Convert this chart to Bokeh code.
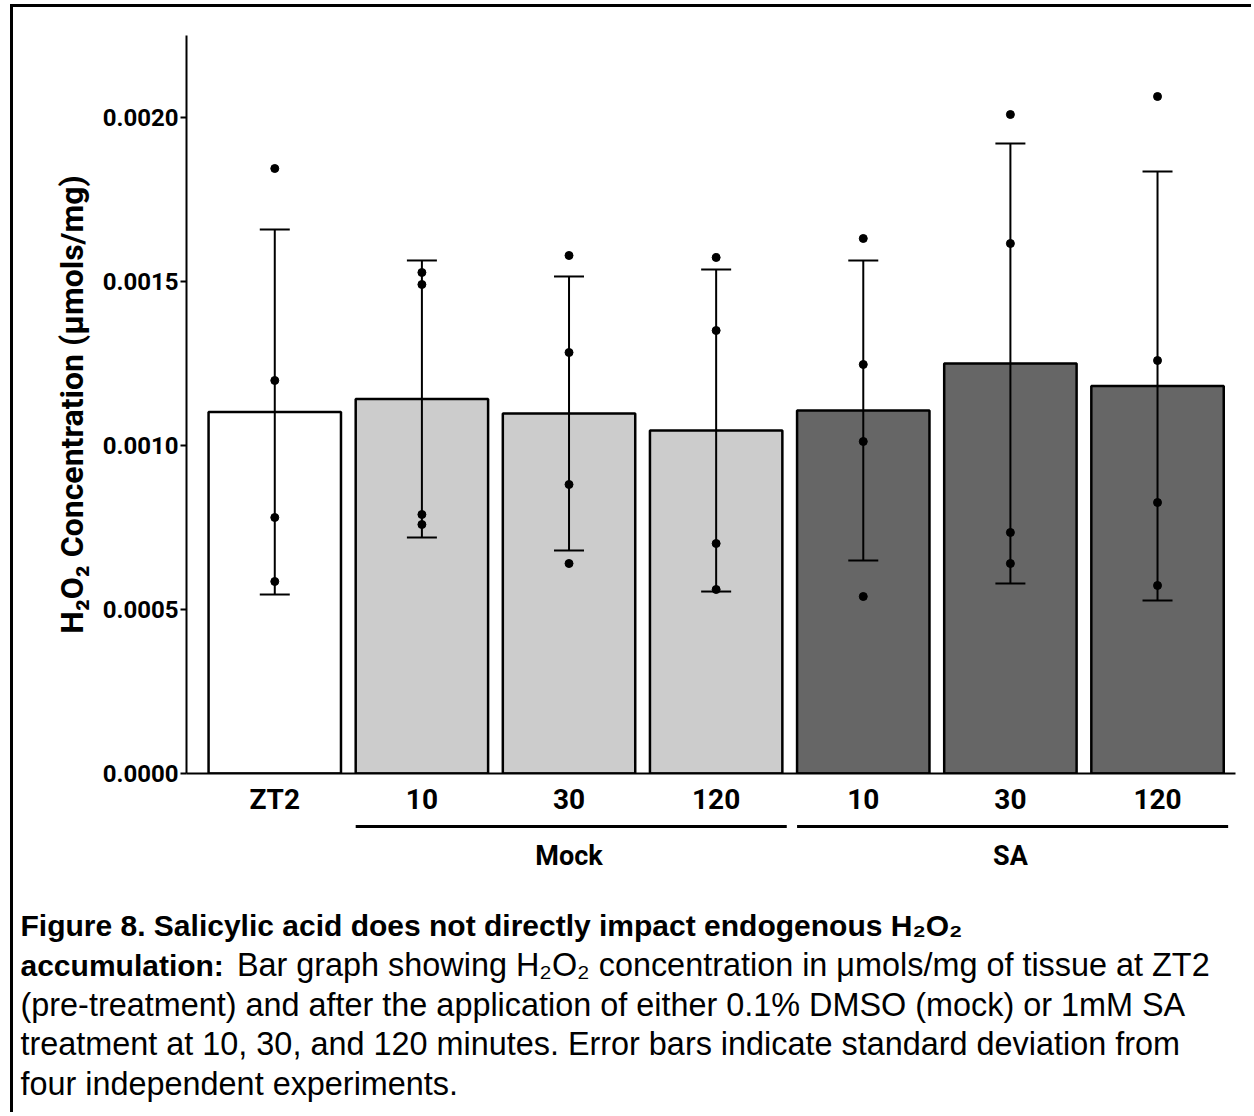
from bokeh.plotting import figure
from bokeh.layouts import column, row
from bokeh.models import (ColumnDataSource, Whisker, TeeHead, FixedTicker,
                          NumeralTickFormatter, Label, Range1d)
from bokeh.embed import file_html
from bokeh.resources import INLINE

# ---------------- data ----------------
categories = ["ZT2", "10", "30", "120", "10", "30", "120"]
groups = ["", "Mock", "Mock", "Mock", "SA", "SA", "SA"]
group_names = ["Mock", "SA"]
means = [0.0011021, 0.0011418, 0.0010976, 0.0010457, 0.0011067, 0.0012500, 0.0011814]
sds = [0.0005564, 0.0004223, 0.0004177, 0.0004909, 0.0004573, 0.0006707, 0.0006540]
zt2_points = [0.0018445, 0.0011982, 0.0007805, 0.0005854]
mock10_points = [0.0015274, 0.0014909, 0.0007896, 0.0007591]
mock30_points = [0.0015793, 0.0012835, 0.0008811, 0.0006402]
mock120_points = [0.0015732, 0.0013506, 0.0007012, 0.0005610]
sa10_points = [0.0016311, 0.0012470, 0.0010122, 0.0005396]
sa30_points = [0.0020091, 0.0016159, 0.0007348, 0.0006402]
sa120_points = [0.0020640, 0.0012591, 0.0008262, 0.0005732]
fills = ["#FFFFFF", "#CCCCCC", "#CCCCCC", "#CCCCCC", "#666666", "#666666", "#666666"]
y_ticks = [0.0, 0.0005, 0.0010, 0.0015, 0.0020]

caption_lines = [
    [("Figure 8. Salicylic acid does not directly impact endogenous H₂O₂", True)],
    [("accumulation:", True), ("Bar graph showing H₂O₂ concentration in μmols/mg of tissue at ZT2", False)],
    [("(pre-treatment) and after the application of either 0.1% DMSO (mock) or 1mM SA", False)],
    [("treatment at 10, 30, and 120 minutes. Error bars indicate standard deviation from", False)],
    [("four independent experiments.", False)],
]

replicates = [zt2_points, mock10_points, mock30_points, mock120_points,
              sa10_points, sa30_points, sa120_points]

xs = list(range(len(categories)))
src = ColumnDataSource(dict(
    x=xs, mean=means, fill=fills,
    upper=[m + s for m, s in zip(means, sds)],
    lower=[m - s for m, s in zip(means, sds)],
))
pt_x, pt_y = [], []
for i, reps in enumerate(replicates):
    for v in reps:
        pt_x.append(i)
        pt_y.append(v)

CHART = "Roboto"
CAP = "Liberation Sans"
W = 1238
LB = 173
RB = 16

x_range = Range1d(-0.6, 6.53)

# ---------------- main chart ----------------
p = figure(width=W, height=813, x_range=x_range,
           y_range=Range1d(0, 0.00225), output_backend="svg",
           toolbar_location=None, title=None,
           min_border_left=LB, min_border_right=RB,
           min_border_top=28, min_border_bottom=47)
p.outline_line_color = None
p.xgrid.visible = False
p.ygrid.visible = False

p.vbar(x="x", top="mean", bottom=0, width=0.9, fill_color="fill",
       line_color="black", line_width=2.5, source=src)

wh = Whisker(source=src, base="x", upper="upper", lower="lower",
             line_color="black", line_width=2, level="overlay",
             upper_head=TeeHead(size=30, line_width=2, line_color="black"),
             lower_head=TeeHead(size=30, line_width=2, line_color="black"))
p.add_layout(wh)

p.scatter(pt_x, pt_y, size=8, color="black", level="overlay")

ya = p.yaxis[0]
ya.ticker = FixedTicker(ticks=y_ticks)
ya.formatter = NumeralTickFormatter(format="0.0000")
ya.minor_tick_line_color = None
ya.major_tick_out = 6
ya.major_tick_in = 0
ya.major_tick_line_width = 2
ya.axis_line_width = 2
ya.major_label_text_font = CHART
ya.major_label_text_font_style = "bold"
ya.major_label_text_font_size = "24px"
ya.major_label_text_color = "black"
ya.major_label_standoff = 2
ya.axis_label = "H₂O₂ Concentration (μmols/mg)"
ya.axis_label_text_font = CHART
ya.axis_label_text_font_style = "bold"
ya.axis_label_text_font_size = "32px"
ya.axis_label_text_color = "black"
ya.axis_label_standoff = 9

xa = p.xaxis[0]
xa.ticker = FixedTicker(ticks=xs)
xa.major_label_overrides = {i: c for i, c in zip(xs, categories)}
xa.major_tick_line_color = None
xa.major_tick_out = 0
xa.minor_tick_line_color = None
xa.axis_line_width = 2
xa.major_label_text_font = CHART
xa.major_label_text_font_style = "bold"
xa.major_label_text_font_size = "28px"
xa.major_label_text_color = "black"
xa.major_label_standoff = 9

# ---------------- group bracket strip ----------------
g = figure(width=W, height=60, x_range=x_range, y_range=Range1d(60, 0),
           output_backend="svg", toolbar_location=None, title=None,
           x_axis_location=None, y_axis_location=None,
           min_border_left=LB, min_border_right=RB,
           min_border_top=0, min_border_bottom=0)
g.outline_line_color = None
g.xgrid.visible = False
g.ygrid.visible = False
for name in group_names:
    idx = [i for i, gg in enumerate(groups) if gg == name]
    lo, hi = min(idx), max(idx)
    g.segment(x0=[lo - 0.45], x1=[hi + 0.48], y0=[6], y1=[6],
              line_color="black", line_width=3)
    g.add_layout(Label(x=(lo + hi) / 2, y=35, text=name,
                       text_align="center", text_baseline="middle",
                       text_font=CHART, text_font_style="bold",
                       text_font_size="27px", text_color="black"))

# ---------------- caption ----------------
CH = 232
c = figure(width=W, height=CH, x_range=Range1d(0, W), y_range=Range1d(CH, 0),
           output_backend="svg", toolbar_location=None, title=None,
           x_axis_location=None, y_axis_location=None,
           min_border_left=0, min_border_right=0,
           min_border_top=0, min_border_bottom=0)
c.outline_line_color = None
c.xgrid.visible = False
c.ygrid.visible = False
line_y = [45, 84.5, 124, 163.5, 203]
bold_size = 30
reg_size = 32.4
bold_width_em = {"accumulation:": 6.779}
for ly, parts in zip(line_y, caption_lines):
    cx = 7
    for text, bold in parts:
        size = bold_size if bold else reg_size
        c.add_layout(Label(x=cx, y=ly, text=text, text_align="left",
                           text_baseline="middle", text_font=CAP,
                           text_font_style="bold" if bold else "normal",
                           text_font_size=f"{size}px", text_color="black"))
        cx += bold_width_em.get(text, 0) * size + 0.278 * reg_size + 4

layout = column(p, g, row(c), spacing=0,
                styles={"border-top": "3px solid black",
                        "border-left": "3px solid black",
                        "margin-left": "10px", "margin-top": "4px"})

open("out.html", "w").write(file_html(layout, INLINE))
